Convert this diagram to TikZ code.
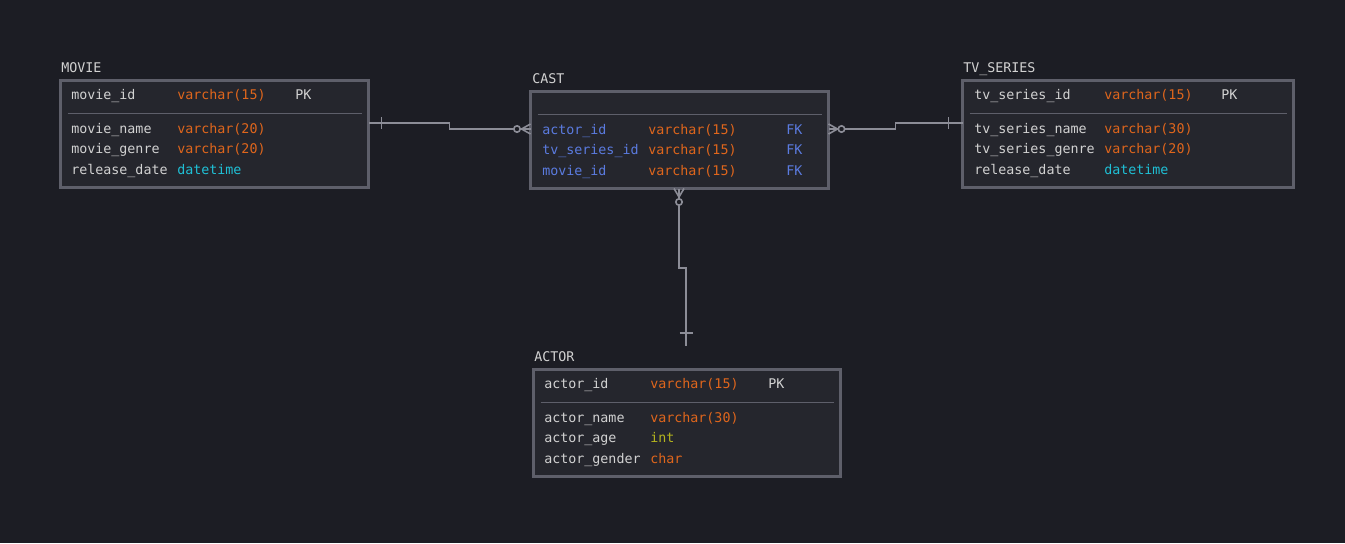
\documentclass[tikz,border=0pt]{standalone}
\usepackage{fontspec}
\setmonofont{DejaVu Sans Mono}
\usetikzlibrary{calc}
\usetikzlibrary{positioning}
\definecolor{bgdark}{HTML}{1C1D24}
\definecolor{boxfill}{HTML}{25262D}
\definecolor{boxline}{HTML}{5E5F6A}
\definecolor{connline}{HTML}{8C8D97}
\definecolor{plaintext}{HTML}{D2D2D2}
\definecolor{typeorange}{HTML}{E0661C}
\definecolor{typecyan}{HTML}{1FC0D6}
\definecolor{typeolive}{HTML}{B4B41E}
\definecolor{keyblue}{HTML}{5B7BE0}
\tikzstyle{table}=[draw=boxline, fill=boxfill, line width=1.6pt, anchor=north west, inner sep=0pt, outer sep=0pt]
\tikzstyle{title}=[anchor=west, inner sep=0pt, yshift=-0.8pt, text height=7.4pt, text depth=1.8pt, text=plaintext, font={\ttfamily\fontsize{10}{12}\selectfont}]
\tikzstyle{field}=[title]
\tikzstyle{type}=[field, text=typeorange]
\tikzstyle{fk}=[field, text=keyblue]
\tikzstyle{divider}=[draw=boxline, line width=0.9pt]
\tikzstyle{conn}=[draw=connline, line width=1.2pt]

\begin{document}
\begin{tikzpicture}[x=0.75pt, y=-0.75pt]

    \fill[bgdark] (0,0) rectangle (1345,543);
    \useasboundingbox (0,0) rectangle (1345,543);

    \node[table, minimum width=231pt, minimum height=80.25pt] (movie) at (60.5,80.5) {};
    \node[table, minimum width=223.5pt, minimum height=72.75pt] (cast) at (530.5,91.5) {};
    \node[table, minimum width=248.25pt, minimum height=80.25pt] (tvseries) at (962.5,80.5) {};
    \node[table, minimum width=230.25pt, minimum height=80.25pt] (actor) at (533.5,369.5) {};

    \node[title] (movietitle) at (61,68) {MOVIE};
    \node[title] (casttitle) at (532,79) {CAST};
    \node[title] (tvtitle) at (963,68) {TV\_SERIES};
    \node[title] (actortitle) at (534,357) {ACTOR};

    \draw[divider] ($(movie.north west)+(7,33)$) -- ($(movie.north east)+(-7,33)$);
    \draw[divider] ($(cast.north west)+(7,23)$) -- ($(cast.north east)+(-7,23)$);
    \draw[divider] ($(tvseries.north west)+(7,33)$) -- ($(tvseries.north east)+(-7,33)$);
    \draw[divider] ($(actor.north west)+(7,33)$) -- ($(actor.north east)+(-7,33)$);

    \node[field] (mid) at (71,95) {movie\_id};
    \node[type] (midtype) at (177,95) {varchar(15)};
    \node[field] (midkey) at (295,95) {PK};
    \node[field] (mname) at (71,129) {movie\_name};
    \node[type] (mnametype) at (177,129) {varchar(20)};
    \node[field] (mgenre) at (71,149) {movie\_genre};
    \node[type] (mgenretype) at (177,149) {varchar(20)};
    \node[field] (mdate) at (71,170) {release\_date};
    \node[type, text=typecyan] (mdatetype) at (177,170) {datetime};

    \node[fk] (cactor) at (542,130) {actor\_id};
    \node[type] (cactortype) at (648,130) {varchar(15)};
    \node[fk] (cactorkey) at (786,130) {FK};
    \node[fk] (ctv) at (542,150) {tv\_series\_id};
    \node[type] (ctvtype) at (648,150) {varchar(15)};
    \node[fk] (ctvkey) at (786,150) {FK};
    \node[fk] (cmovie) at (542,171) {movie\_id};
    \node[type] (cmovietype) at (648,171) {varchar(15)};
    \node[fk] (cmoviekey) at (786,171) {FK};

    \node[field] (tid) at (974,95) {tv\_series\_id};
    \node[type] (tidtype) at (1104,95) {varchar(15)};
    \node[field] (tidkey) at (1221,95) {PK};
    \node[field] (tname) at (974,129) {tv\_series\_name};
    \node[type] (tnametype) at (1104,129) {varchar(30)};
    \node[field] (tgenre) at (974,149) {tv\_series\_genre};
    \node[type] (tgenretype) at (1104,149) {varchar(20)};
    \node[field] (tdate) at (974,170) {release\_date};
    \node[type, text=typecyan] (tdatetype) at (1104,170) {datetime};

    \node[field] (aid) at (544,384) {actor\_id};
    \node[type] (aidtype) at (650,384) {varchar(15)};
    \node[field] (aidkey) at (768,384) {PK};
    \node[field] (aname) at (544,418) {actor\_name};
    \node[type] (anametype) at (650,418) {varchar(30)};
    \node[field] (aage) at (544,438) {actor\_age};
    \node[type, text=typeolive] (aagetype) at (650,438) {int};
    \node[field] (agender) at (544,459) {actor\_gender};
    \node[type] (agendertype) at (650,459) {char};

    \coordinate (actorend) at (686,346);

    % movie -- cast
    \draw[conn] ($(movie.north east)+(0,42.5)$) -- ++(81,0) -- ++(0,6) -- ($(cast.north west)+(0,37.5)$);
    \draw[conn] ($(movie.north east)+(13,36.5)$) -- ++(0,12);
    \draw[conn] ($(cast.north west)+(0,32.5)$) -- ($(cast.north west)+(-9,37.5)$) -- ($(cast.north west)+(0,42.5)$);
    \draw[conn, fill=bgdark] ($(cast.north west)+(-13.5,37.5)$) circle (2.4pt);

    % cast -- tv series
    \draw[conn] ($(cast.north east)+(0,37.5)$) -- ++(67,0) -- ++(0,-6) -- ($(tvseries.north west)+(0,42.5)$);
    \draw[conn] ($(tvseries.north west)+(-14,36.5)$) -- ++(0,12);
    \draw[conn] ($(cast.north east)+(0,32.5)$) -- ($(cast.north east)+(9,37.5)$) -- ($(cast.north east)+(0,42.5)$);
    \draw[conn, fill=bgdark] ($(cast.north east)+(13,37.5)$) circle (2.4pt);

    % cast -- actor
    \draw[conn] ($(cast.south west)+(148.5,0)$) -- ++(0,79.5) -- ++(7,0) -- (actorend);
    \draw[conn] ($(actorend)+(-6.5,-13)$) -- ++(13,0);
    \draw[conn] ($(cast.south west)+(143.5,0)$) -- ($(cast.south west)+(148.5,8.5)$) -- ($(cast.south west)+(153.5,0)$);
    \draw[conn, fill=bgdark] ($(cast.south west)+(148.5,13.5)$) circle (2.4pt);

\end{tikzpicture}
\end{document}
